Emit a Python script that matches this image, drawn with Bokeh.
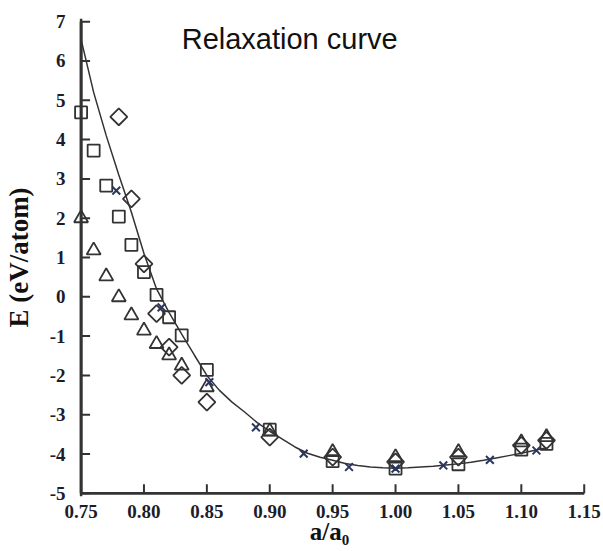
import math
from bokeh.plotting import figure
from bokeh.models import Range1d, FixedTicker, NumeralTickFormatter, PrintfTickFormatter, Label, Span
from bokeh.embed import file_html
from bokeh.resources import INLINE

# ---- data ----
ratio_sq = [0.75, 0.76, 0.77, 0.78, 0.79, 0.80, 0.81, 0.82, 0.83, 0.85, 0.90, 0.95, 1.00, 1.05, 1.10, 1.12]
E_sq = [4.69, 3.72, 2.83, 2.04, 1.32, 0.63, 0.05, -0.52, -0.98, -1.86, -3.38, -4.18, -4.37, -4.26, -3.89, -3.74]

ratio_tri = [0.75, 0.76, 0.77, 0.78, 0.79, 0.80, 0.81, 0.82, 0.83, 0.85, 0.90, 0.95, 1.00, 1.05, 1.10, 1.12]
E_tri = [2.0, 1.18, 0.52, -0.01, -0.47, -0.86, -1.2, -1.49, -1.75, -2.3, -3.42, -3.95, -4.08, -3.95, -3.7, -3.57]

ratio_dia = [0.78, 0.79, 0.80, 0.81, 0.82, 0.83, 0.85, 0.90, 0.95, 1.00, 1.05, 1.10, 1.12]
E_dia = [4.58, 2.49, 0.84, -0.43, -1.28, -2.0, -2.68, -3.57, -4.08, -4.2, -4.08, -3.78, -3.65]

ratio_x = [0.778, 0.814, 0.852, 0.889, 0.927, 0.963, 1.000, 1.038, 1.075, 1.112]
E_x = [2.70, -0.27, -2.17, -3.32, -3.99, -4.33, -4.37, -4.29, -4.15, -3.91]

ratio_fit = [0.75, 0.76, 0.77, 0.78, 0.79, 0.80, 0.81, 0.82, 0.83, 0.84, 0.85, 0.86, 0.87, 0.88,
             0.89, 0.90, 0.91, 0.92, 0.93, 0.94, 0.95, 0.96, 0.97, 0.98, 0.99, 1.00, 1.01, 1.02,
             1.03, 1.04, 1.05, 1.06, 1.07, 1.08, 1.09, 1.10, 1.11, 1.12]
E_fit = [6.55, 5.2, 4.1, 3.1, 2.15, 1.1, 0.2, -0.4, -0.95, -1.48, -2.0, -2.38, -2.68, -2.93,
         -3.2, -3.42, -3.62, -3.82, -3.98, -4.08, -4.16, -4.24, -4.29, -4.33, -4.35, -4.36, -4.35, -4.33,
         -4.31, -4.28, -4.25, -4.21, -4.16, -4.1, -4.04, -3.98, -3.91, -3.84]

x_ticks = [0.75, 0.80, 0.85, 0.90, 0.95, 1.00, 1.05, 1.10, 1.15]
y_ticks = [-5, -4, -3, -2, -1, 0, 1, 2, 3, 4, 5, 6, 7]

title_text = "Relaxation curve"
x_label = "a/a\u2080"
y_label = "E (eV/atom)"

# ---- figure ----
p = figure(width=603, height=551, output_backend="svg", toolbar_location=None,
           x_range=Range1d(0.74, 1.155), y_range=Range1d(-5.08, 7.08),
           min_border_left=68, min_border_right=13, min_border_top=18, min_border_bottom=55)
p.outline_line_alpha = 0
p.xgrid.grid_line_color = None
p.ygrid.grid_line_color = None

axis_col = "#333333"
serif = "Liberation Serif"

xa = p.xaxis[0]
ya = p.yaxis[0]

for a in (xa, ya):
    a.axis_line_color = None
    a.major_tick_line_color = None
    a.minor_tick_line_color = None
    a.major_tick_in = 0
    a.major_tick_out = 0
    a.minor_tick_in = 0
    a.minor_tick_out = 0
    a.major_label_text_font = serif
    a.major_label_text_font_style = "bold"
    a.major_label_text_font_size = "19px"
    a.major_label_text_color = "#1c1c2a"
    a.axis_label_text_font = serif
    a.axis_label_text_font_style = "bold"
    a.axis_label_text_color = "#111111"

xa.ticker = FixedTicker(ticks=x_ticks)
xa.formatter = NumeralTickFormatter(format="0.00")
xa.major_label_standoff = 8
xa.axis_label = x_label
xa.axis_label_text_font_size = "25px"
xa.axis_label_standoff = -3

ya.ticker = FixedTicker(ticks=y_ticks)
ya.formatter = PrintfTickFormatter(format="%d")
ya.major_label_standoff = 3
ya.axis_label = y_label
ya.axis_label_text_font_size = "27px"
ya.axis_label_standoff = 13

# axis rules (as filled bars and as lines) and inward ticks, derived from the tick lists
x_lo, x_hi = x_ticks[0], x_ticks[-1]
y_lo, y_hi = y_ticks[0], y_ticks[-1]
p.rect(x=[x_lo], y=[(y_lo + y_hi) / 2], width=2.5, width_units="screen", height=y_hi - y_lo,
       fill_color=axis_col, line_color=None)
p.rect(x=[(x_lo + x_hi) / 2], y=[y_lo], width=x_hi - x_lo, height=2.5, height_units="screen",
       fill_color=axis_col, line_color=None)
p.segment(x0=[x_lo], y0=[y_lo], x1=[x_lo], y1=[y_hi], line_color=axis_col, line_width=2.5)
p.segment(x0=[x_lo], y0=[y_lo], x1=[x_hi], y1=[y_lo], line_color=axis_col, line_width=2.5)
p.add_layout(Span(location=x_lo, dimension="height", line_color=axis_col, line_width=2.5))
p.ray(x=[x_lo] * len(y_ticks), y=y_ticks, length=9, angle=0, length_units="screen",
      line_color=axis_col, line_width=2)
p.ray(x=x_ticks, y=[y_lo] * len(x_ticks), length=9, angle=math.pi / 2, length_units="screen",
      line_color=axis_col, line_width=2)

mk_col = "#333333"

# fitted curve
p.line(ratio_fit, E_fit, line_color=mk_col, line_width=1.5)

# data markers
p.scatter(ratio_sq, E_sq, marker="square", size=12, fill_color=None,
          line_color=mk_col, line_width=1.8)
p.scatter(ratio_tri, E_tri, marker="triangle", size=14, fill_color=None,
          line_color=mk_col, line_width=1.8)
p.scatter(ratio_dia, E_dia, marker="square", angle=math.pi / 4, size=12, fill_color=None,
          line_color=mk_col, line_width=1.8)
p.scatter(ratio_x, E_x, marker="x", size=11, line_color="#2a3760", line_width=2)

# title inside the plot
p.add_layout(Label(x=0.83, y=6.55, text=title_text, text_font="Liberation Sans",
                   text_font_size="29px", text_color="#111111", text_baseline="alphabetic"))

open("out.html", "w").write(file_html(p, INLINE))
